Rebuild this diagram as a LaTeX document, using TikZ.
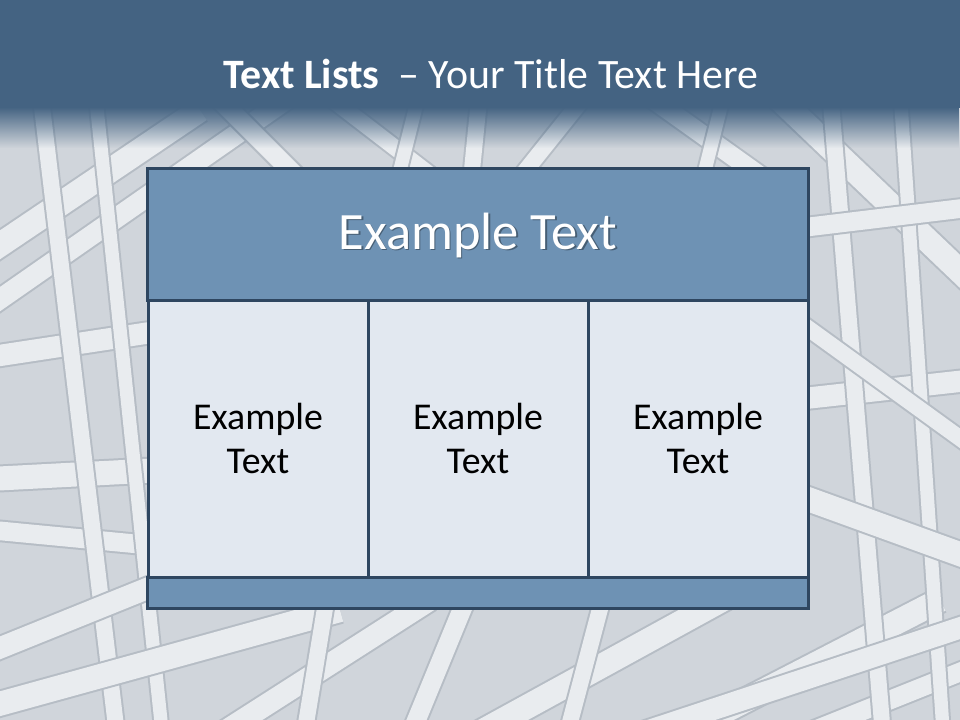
\documentclass[tikz,border=0pt]{standalone}
\usepackage{fontspec}
\setmainfont{Carlito}
\usetikzlibrary{fadings}
\definecolor{titlecol}{RGB}{68,99,130}
\definecolor{bgcol}{RGB}{208,213,219}
\definecolor{headcol}{RGB}{110,146,180}
\definecolor{cellcol}{RGB}{226,232,240}
\definecolor{edgecol}{RGB}{46,70,96}
\definecolor{tubeedge}{RGB}{182,189,197}
\definecolor{tubefill}{RGB}{233,236,239}
\tikzfading[name=titlefade, top color=transparent!0, bottom color=transparent!100]
\tikzset{
  tube/.style={draw=tubeedge, line width=1.5bp, double=tubefill, double distance=#1},
  tube/.default=14bp,
  panel/.style={draw=edgecol, line width=2.25bp, inner sep=0pt},
  headbox/.style={panel, fill=headcol},
  headfont/.style={font=\fontsize{39.5}{47}\selectfont},
  cellbox/.style={panel, fill=cellcol, text=black, align=center, font=\fontsize{28.5}{33.75}\selectfont},
}
\begin{document}
\begin{tikzpicture}[x=0.75bp,y=-0.75bp]
\useasboundingbox (0,0) rectangle (960,720);
% background photo impression
\fill[bgcol] (0,0) rectangle (960,720);
\begin{scope}
\clip (0,0) rectangle (960,720);
\draw[tube=18bp] (-30,265) -- (200,110);
\draw[tube=15bp] (-30,320) -- (300,90);
\draw[tube=16bp] (-30,360) -- (200,325);
\draw[tube=18bp] (-30,480) -- (200,468);
\draw[tube=14bp] (-30,528) -- (200,550);
\draw[tube=12bp] (40,90) -- (120,760);
\draw[tube=10bp] (95,90) -- (165,760);
\draw[tube=16bp] (-30,660) -- (230,555);
\draw[tube=18bp] (-30,712) -- (340,610);
\draw[tube=16bp] (180,760) -- (430,600);
\draw[tube=12bp] (300,760) -- (328,590);
\draw[tube=14bp] (400,760) -- (470,590);
\draw[tube=18bp] (430,760) -- (740,590);
\draw[tube=12bp] (560,760) -- (605,590);
\draw[tube=18bp] (630,760) -- (940,600);
\draw[tube=14bp] (740,760) -- (990,660);
\draw[tube=18bp] (770,90) -- (990,300);
\draw[tube=16bp] (700,410) -- (990,378);
\draw[tube=12bp] (830,90) -- (885,760);
\draw[tube=10bp] (900,90) -- (945,760);
\draw[tube=18bp] (700,460) -- (990,565);
\draw[tube=16bp] (560,760) -- (990,618);
\draw[tube=14bp] (700,240) -- (990,205);
\draw[tube=12bp] (700,250) -- (990,460);
\draw[tube=14bp] (210,90) -- (310,190);
\draw[tube=12bp] (320,90) -- (450,190);
\draw[tube=12bp] (590,90) -- (510,190);
\draw[tube=14bp] (640,90) -- (780,190);
\draw[tube=10bp] (420,90) -- (395,190);
\draw[tube=10bp] (725,90) -- (700,190);
\draw[tube=12bp] (480,90) -- (470,190);
\end{scope}
% title bar
\fill[titlecol] (0,0) rectangle (960,108);
\fill[titlecol, path fading=titlefade] (0,107) rectangle (960,148);
\node[text=white, anchor=base, font=\fontsize{31.5}{38}\selectfont] (title) at (491,88)
  {\textbf{Text Lists}\ \ – Your Title Text Here};
% panel
\node[headbox, minimum width=495bp, minimum height=99bp] (header) at (478,234) {};
\node[text=black, opacity=0.35, headfont] (headshadow) at (479.5,237) {Example Text};
\node[text=white, headfont] (headtext) at (478,235.5) {Example Text};
\node[cellbox, minimum width=165bp, minimum height=207.75bp] (cellA) at (258,438.5) {Example\\Text};
\node[cellbox, minimum width=165bp, minimum height=207.75bp] (cellB) at (478,438.5) {Example\\Text};
\node[cellbox, minimum width=165bp, minimum height=207.75bp] (cellC) at (698,438.5) {Example\\Text};
\node[panel, fill=headcol, minimum width=495bp, minimum height=23.25bp] (footer) at (478,592.5) {};
\end{tikzpicture}
\end{document}
